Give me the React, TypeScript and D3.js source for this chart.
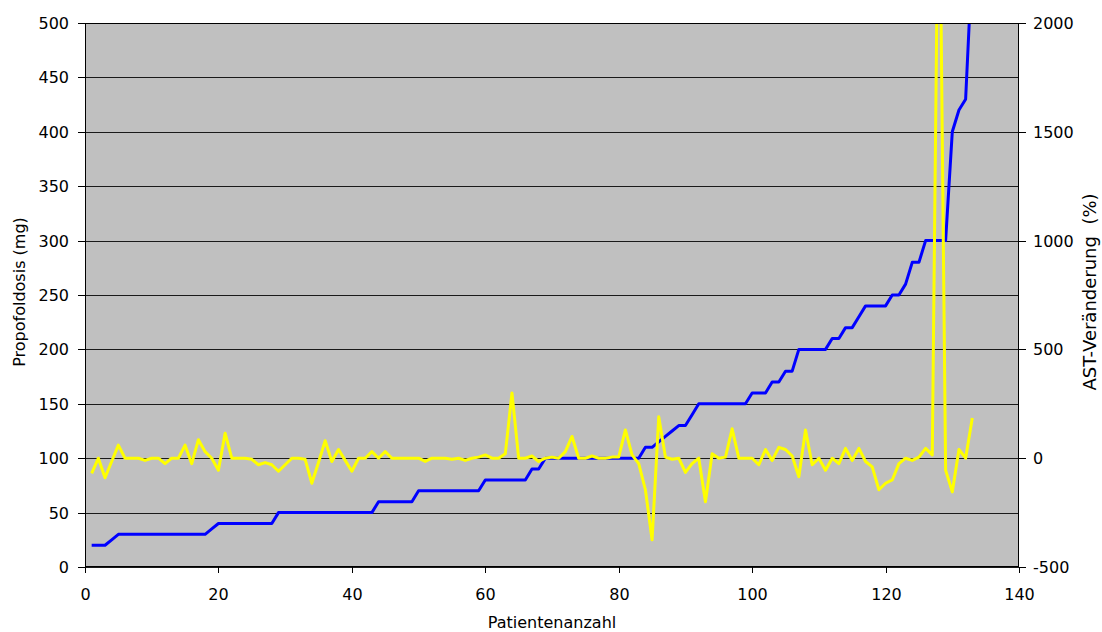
import React from 'react';
import * as d3 from 'd3';

const W = 1102;
const H = 632;
const plot = { left: 85, right: 1019, top: 23, bottom: 567 };

// Propofol dose per patient (mg), patients 1..133 sorted by dose
const doseMg: number[] = [
  20, 20, 20, 25, 30, 30, 30, 30, 30, 30,
  30, 30, 30, 30, 30, 30, 30, 30, 35, 40,
  40, 40, 40, 40, 40, 40, 40, 40, 50, 50,
  50, 50, 50, 50, 50, 50, 50, 50, 50, 50,
  50, 50, 50, 60, 60, 60, 60, 60, 60, 70,
  70, 70, 70, 70, 70, 70, 70, 70, 70, 80,
  80, 80, 80, 80, 80, 80, 90, 90, 100, 100,
  100, 100, 100, 100, 100, 100, 100, 100, 100, 100,
  100, 100, 100, 110, 110, 115, 120, 125, 130, 130,
  140, 150, 150, 150, 150, 150, 150, 150, 150, 160,
  160, 160, 170, 170, 180, 180, 200, 200, 200, 200,
  200, 210, 210, 220, 220, 230, 240, 240, 240, 240,
  250, 250, 260, 280, 280, 300, 300, 300, 300, 400,
  420, 430, 560,
];

// AST change per patient (%)
const astChangePct: number[] = [
  -70, 0, -90, -15, 60, 0, 0, 0, -10, 0,
  0, -25, 0, 0, 60, -25, 85, 30, 0, -55,
  115, 0, 0, 0, -5, -30, -20, -30, -60, -30,
  0, 0, -5, -115, -20, 80, -15, 40, -10, -60,
  0, 0, 30, 0, 30, 0, 0, 0, 0, 0,
  -15, 0, 0, 0, -5, 0, -10, 0, 5, 15,
  0, 0, 20, 300, 0, 0, 10, -15, 0, 5,
  0, 30, 100, 0, 0, 10, 0, 0, 5, 5,
  130, 15, -25, -145, -375, 190, 5, -5, 0, -65,
  -25, 0, -200, 20, 0, 5, 135, 0, 0, 0,
  -30, 40, -10, 50, 40, 10, -85, 130, -30, 0,
  -55, 0, -25, 45, -10, 45, -15, -40, -145, -115,
  -100, -25, 0, -10, 5, 45, 15, 3000, -55, -155,
  40, 0, 185,
];

const xTicks = [0, 20, 40, 60, 80, 100, 120, 140];
const doseTicks = [0, 50, 100, 150, 200, 250, 300, 350, 400, 450, 500];
const astTicks = [-500, 0, 500, 1000, 1500, 2000];

const FONT = "'DejaVu Sans', Verdana, sans-serif";

export default function App() {
  const x = d3.scaleLinear().domain([0, 140]).range([plot.left, plot.right]);
  const yDose = d3.scaleLinear().domain([0, 500]).range([plot.bottom, plot.top]);
  const yAst = d3.scaleLinear().domain([-500, 2000]).range([plot.bottom, plot.top]);

  const doseLine = d3
    .line<number>()
    .x((_, i) => x(i + 1))
    .y((d) => yDose(d));
  const astLine = d3
    .line<number>()
    .x((_, i) => x(i + 1))
    .y((d) => yAst(d));

  const pw = plot.right - plot.left;
  const ph = plot.bottom - plot.top;

  return (
    <svg
      width={W}
      height={H}
      style={{ position: 'absolute', left: 0, top: 0, background: '#fff' }}
      fontFamily={FONT}
    >
      <defs>
        <clipPath id="plot-clip">
          <rect x={plot.left} y={plot.top} width={pw} height={ph} />
        </clipPath>
      </defs>

      {/* plot area */}
      <rect x={plot.left} y={plot.top} width={pw} height={ph} fill="#C0C0C0" />

      {/* horizontal gridlines */}
      {doseTicks.map((t) => (
        <line
          key={`g${t}`}
          x1={plot.left}
          x2={plot.right}
          y1={Math.round(yDose(t)) + 0.5}
          y2={Math.round(yDose(t)) + 0.5}
          stroke="#1a1a1a"
          strokeWidth={1}
        />
      ))}

      {/* series */}
      <g clipPath="url(#plot-clip)">
        <path
          d={doseLine(doseMg) ?? ''}
          fill="none"
          stroke="#0000FF"
          strokeWidth={3}
          strokeLinejoin="round"
        />
        <path
          d={astLine(astChangePct) ?? ''}
          fill="none"
          stroke="#FFFF00"
          strokeWidth={3}
          strokeLinejoin="round"
        />
      </g>

      {/* plot border */}
      <rect
        x={plot.left + 0.5}
        y={plot.top + 0.5}
        width={pw - 1}
        height={ph - 1}
        fill="none"
        stroke="#000"
        strokeWidth={1}
      />

      {/* left axis */}
      {doseTicks.map((t) => {
        const y = Math.round(yDose(t)) + 0.5;
        return (
          <g key={`l${t}`}>
            <line x1={plot.left - 7} x2={plot.left} y1={y} y2={y} stroke="#000" />
            <text
              x={plot.left - 16}
              y={y}
              textAnchor="end"
              dominantBaseline="central"
              fontSize={16}
              fill="#000"
            >
              {t}
            </text>
          </g>
        );
      })}

      {/* right axis */}
      {astTicks.map((t) => {
        const y = Math.round(yAst(t)) + 0.5;
        return (
          <g key={`r${t}`}>
            <line x1={plot.right} x2={plot.right + 7} y1={y} y2={y} stroke="#000" />
            <text
              x={plot.right + 14}
              y={y}
              textAnchor="start"
              dominantBaseline="central"
              fontSize={16}
              fill="#000"
            >
              {t}
            </text>
          </g>
        );
      })}

      {/* bottom axis */}
      {xTicks.map((t) => {
        const xx = Math.round(x(t)) + 0.5;
        return (
          <g key={`b${t}`}>
            <line x1={xx} x2={xx} y1={plot.bottom} y2={plot.bottom + 6} stroke="#000" />
            <text x={xx} y={600} textAnchor="middle" fontSize={16} fill="#000">
              {t}
            </text>
          </g>
        );
      })}

      {/* axis titles */}
      <text
        x={(plot.left + plot.right) / 2}
        y={628}
        textAnchor="middle"
        fontSize={16}
        fill="#000"
      >
        Patientenanzahl
      </text>
      <text
        transform={`translate(25,${(plot.top + plot.bottom) / 2 - 3}) rotate(-90)`}
        textAnchor="middle"
        fontSize={16}
        fill="#000"
      >
        Propofoldosis (mg)
      </text>
      <text
        transform={`translate(1096,${(plot.top + plot.bottom) / 2 - 3}) rotate(-90)`}
        textAnchor="middle"
        fontSize={18}
        fill="#000"
        style={{ whiteSpace: 'pre' }}
      >
        {'AST-Veränderung  (%)'}
      </text>
    </svg>
  );
}
